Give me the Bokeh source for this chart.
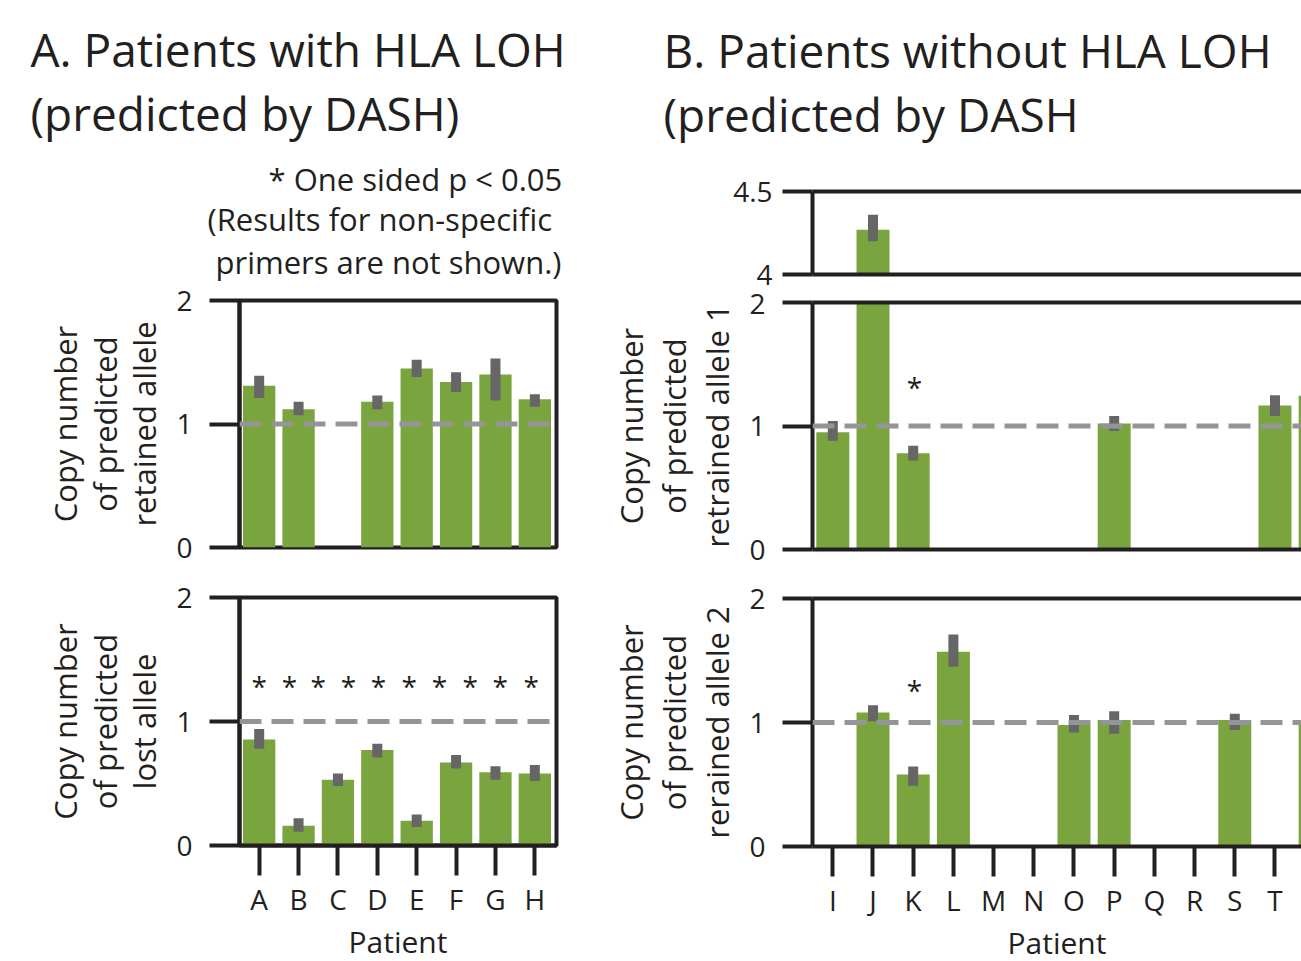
from bokeh.plotting import figure
from bokeh.layouts import row, column
from bokeh.models import FixedTicker, Span, Title, LinearAxis, ColumnDataSource, Range1d
from bokeh.core.properties import value
from bokeh.embed import file_html
from bokeh.resources import INLINE

# ---------------- data ----------------
patients_a = ["A", "B", "C", "D", "E", "F", "G", "H"]
retained_a = [1.31, 1.12, None, 1.18, 1.45, 1.34, 1.40, 1.20]
retained_a_lo = [1.21, 1.07, None, 1.12, 1.38, 1.26, 1.19, 1.14]
retained_a_hi = [1.39, 1.18, None, 1.23, 1.52, 1.42, 1.53, 1.24]
lost_a = [0.855, 0.16, 0.53, 0.77, 0.20, 0.67, 0.59, 0.58]
lost_a_lo = [0.78, 0.11, 0.48, 0.71, 0.15, 0.62, 0.53, 0.52]
lost_a_hi = [0.94, 0.22, 0.58, 0.82, 0.25, 0.73, 0.64, 0.65]
star_x_a = [0.0, 0.77, 1.5, 2.27, 3.03, 3.81, 4.58, 5.36, 6.12, 6.91]
star_y_a = [1.30] * 10

patients_b = ["I", "J", "K", "L", "M", "N", "O", "P", "Q", "R", "S", "T", "U"]
allele1_b = [0.95, 4.27, 0.78, None, None, None, None, 1.02, None, None, None, 1.165, 1.245]
allele1_b_lo = [0.88, 4.20, 0.72, None, None, None, None, 0.96, None, None, None, 1.08, None]
allele1_b_hi = [1.04, 4.36, 0.84, None, None, None, None, 1.08, None, None, None, 1.25, None]
allele2_b = [None, 1.08, 0.58, 1.57, None, None, 0.98, 1.02, None, None, 1.02, None, 0.98]
allele2_b_lo = [None, 1.01, 0.49, 1.45, None, None, 0.92, 0.91, None, None, 0.94, None, None]
allele2_b_hi = [None, 1.14, 0.645, 1.71, None, None, 1.06, 1.09, None, None, 1.07, None, None]
star_x_b1 = [2.03]
star_y_b1 = [1.335]
star_x_b2 = [2.03]
star_y_b2 = [1.28]

# ---------------- style ----------------
INK = "#231F20"
GREEN = "#7AA43E"
ERR = "#666666"
DASH = "#939598"
FONT = "Open Sans"

A_XR = (-0.5, 7.55)
A_FW = 317
A_LEFT = 239
B_XR = (-0.505, 11.66)
B_FW = 489
B_LEFT = 212


def bar_source(vals, lo, hi):
    d = dict(x=[], top=[])
    e = dict(x=[], lo=[], hi=[])
    for i, (v, l, h) in enumerate(zip(vals, lo, hi)):
        if v is None:
            continue
        d["x"].append(i)
        d["top"].append(v)
        if l is not None:
            e["x"].append(i)
            e["lo"].append(l)
            e["hi"].append(h)
    return ColumnDataSource(d), ColumnDataSource(e)


def make_fig(xr, yr, fw, fh, bl, br, bt, bb):
    p = figure(x_range=Range1d(*xr), y_range=Range1d(*yr), frame_width=fw, frame_height=fh,
               min_border_left=bl, min_border_right=br, min_border_top=bt, min_border_bottom=bb,
               output_backend="svg", toolbar_location=None, tools="", title=None)
    p.grid.visible = False
    p.background_fill_color = "white"
    p.border_fill_color = "white"
    p.outline_line_color = None
    return p


def style_axis(ax, ticks, labels=None, standoff=12, tick_out=30):
    ax.ticker = FixedTicker(ticks=ticks)
    ax.axis_line_color = INK
    ax.axis_line_width = 4
    ax.major_tick_line_color = INK
    ax.major_tick_line_width = 4
    ax.major_tick_out = tick_out
    ax.major_tick_in = 0
    ax.minor_tick_line_color = None
    ax.major_label_text_font = FONT
    ax.major_label_text_font_size = "28px"
    ax.major_label_text_color = INK
    ax.major_label_standoff = standoff
    if labels is not None:
        ax.major_label_overrides = labels


def line_only(ax, room=0):
    # a bare axis line; 'room' reserves empty space outside it (one invisible tick)
    ax.ticker = FixedTicker(ticks=[0] if room else [])
    ax.axis_line_color = INK
    ax.axis_line_width = 4
    ax.major_tick_out = room
    ax.major_tick_in = 0
    ax.minor_tick_out = 0
    ax.minor_tick_in = 0
    ax.major_tick_line_color = None
    ax.minor_tick_line_color = None
    ax.major_label_standoff = 0
    ax.major_label_text_font_size = "0px"
    ax.major_label_overrides = {0: ""}


def axlabel(ax, text, line_height=0.95, standoff=8, size="31px"):
    ax.axis_label = text
    ax.axis_label_text_font = FONT
    ax.axis_label_text_font_size = size
    ax.axis_label_text_font_style = "normal"
    ax.axis_label_text_color = INK
    ax.axis_label_standoff = standoff
    ax.axis_label_text_line_height = line_height


def draw_bars(p, srcs):
    bars, errs = srcs
    p.vbar(x="x", top="top", bottom=0, width=0.82, source=bars, fill_color=GREEN, line_color=None)
    p.segment(x0="x", y0="lo", x1="x", y1="hi", source=errs, line_color=ERR, line_width=10, line_cap="butt")


def ref_line(p):
    p.add_layout(Span(location=1, dimension="width", line_color=DASH, line_width=5, line_dash="22 10"))


def stars(p, xs, ys):
    p.text(x=xs, y=ys, text=["*"] * len(xs), text_font=value(FONT), text_font_size="28px",
           text_align="center", text_baseline="middle", text_color=INK, y_offset=2)


def head(p, text, left_px, frame_left, size, standoff, line_height=1.0):
    p.add_layout(Title(text=text, align="left", offset=left_px - frame_left, standoff=standoff,
                       text_font=FONT, text_font_size=size, text_font_style="normal",
                       text_color=INK, text_line_height=line_height), "above")


# ---------------- panel A ----------------
a_labels = {i: s for i, s in enumerate(patients_a)}

a1 = make_fig(A_XR, (0, 2), A_FW, 247, A_LEFT, 44, 300, 25)
a1.outline_line_color = INK
a1.outline_line_width = 4
a1.xaxis.visible = False
style_axis(a1.yaxis[0], [0, 1, 2], standoff=17)
axlabel(a1.yaxis[0], "Copy number\nof predicted\nretained allele")
draw_bars(a1, bar_source(retained_a, retained_a_lo, retained_a_hi))
ref_line(a1)
# header lines, nearest the plot first
head(a1, "primers are not shown.)", 215, A_LEFT, "31px", 36)
head(a1, "(Results for non-specific", 207, A_LEFT, "31px", -39)
head(a1, "*  One sided p < 0.05", 268, A_LEFT, "31px", 32)
head(a1, "A. Patients with HLA LOH\n(predicted by DASH)", 30, A_LEFT, "46px", -10, 1.04)

a2 = make_fig(A_XR, (0, 2), A_FW, 248, A_LEFT, 44, 25, 116)
a2.outline_line_color = INK
a2.outline_line_width = 4
style_axis(a2.yaxis[0], [0, 1, 2], standoff=17)
axlabel(a2.yaxis[0], "Copy number\nof predicted\nlost allele")
style_axis(a2.xaxis[0], list(range(len(patients_a))), a_labels, standoff=4)
axlabel(a2.xaxis[0], "Patient", line_height=1.0, standoff=0, size="30px")
draw_bars(a2, bar_source(lost_a, lost_a_lo, lost_a_hi))
ref_line(a2)
stars(a2, star_x_a, star_y_a)

# ---------------- panel B ----------------
b_labels = {i: s for i, s in enumerate(patients_b)}

b0 = make_fig(B_XR, (4, 4.5), B_FW, 83, B_LEFT, 0, 191, 19)
style_axis(b0.yaxis[0], [4, 4.5], {4: "4", 4.5: "4.5"}, standoff=10)
line_only(b0.xaxis[0])
top0 = LinearAxis()
line_only(top0, room=46)
b0.add_layout(top0, "above")
draw_bars(b0, bar_source(allele1_b, allele1_b_lo, allele1_b_hi))
head(b0, "B. Patients without HLA LOH\n(predicted by DASH", 663, 812, "46px", 0, 1.04)

b1 = make_fig(B_XR, (0, 2), B_FW, 247, B_LEFT, 0, 9, 25)
style_axis(b1.yaxis[0], [0, 1, 2], standoff=17)
axlabel(b1.yaxis[0], "Copy number\nof predicted\nretrained allele 1", line_height=1.03)
line_only(b1.xaxis[0])
top1 = LinearAxis()
line_only(top1)
b1.add_layout(top1, "above")
draw_bars(b1, bar_source(allele1_b, allele1_b_lo, allele1_b_hi))
ref_line(b1)
stars(b1, star_x_b1, star_y_b1)

b2 = make_fig(B_XR, (0, 2), B_FW, 248, B_LEFT, 0, 24, 115)
style_axis(b2.yaxis[0], [0, 1, 2], standoff=17)
axlabel(b2.yaxis[0], "Copy number\nof predicted\nrerained allele 2", line_height=1.03)
style_axis(b2.xaxis[0], list(range(len(patients_b))), b_labels, standoff=4)
axlabel(b2.xaxis[0], "Patient", line_height=1.0, standoff=0, size="30px")
top2 = LinearAxis()
line_only(top2)
b2.add_layout(top2, "above")
draw_bars(b2, bar_source(allele2_b, allele2_b_lo, allele2_b_hi))
ref_line(b2)
stars(b2, star_x_b2, star_y_b2)

layout = row(column(a1, a2, spacing=0), column(b0, b1, b2, spacing=0), spacing=0)

open("out.html", "w").write(file_html(layout, INLINE))
